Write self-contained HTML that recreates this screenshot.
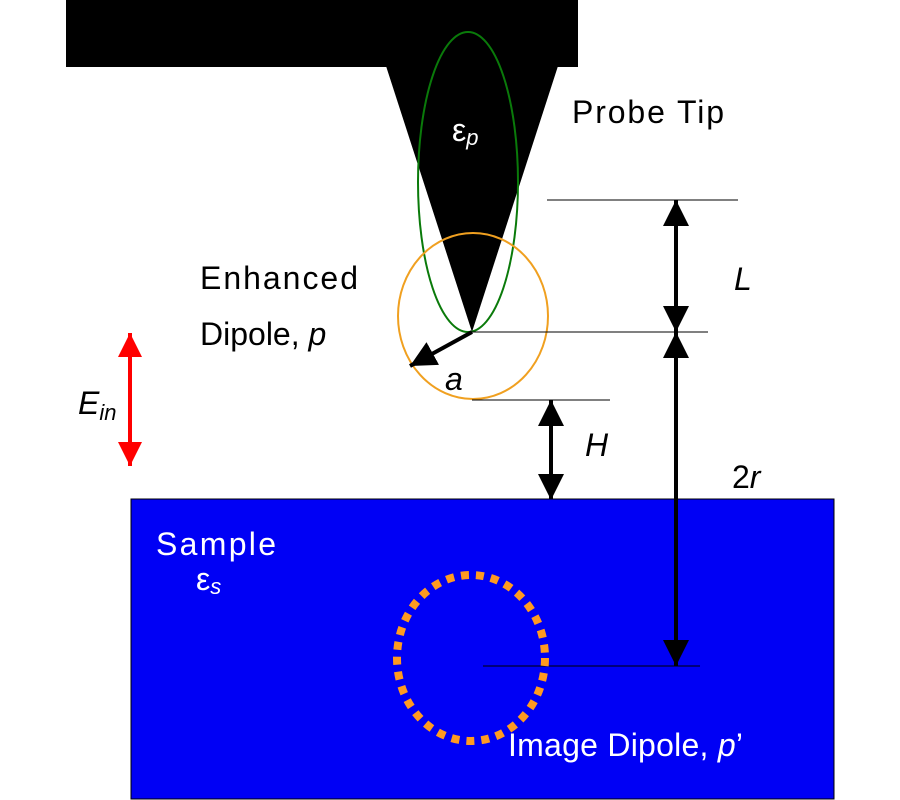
<!DOCTYPE html>
<html><head><style>body{margin:0;background:#fff}svg{display:block}text{font-family:"Liberation Sans",sans-serif;font-size:32px}</style></head><body>
<svg width="900" height="800" viewBox="0 0 900 800">
<defs>
<marker id="ah" viewBox="0 0 10 10" refX="10" refY="5" markerWidth="26" markerHeight="26" markerUnits="userSpaceOnUse" orient="auto"><path d="M0,0L10,5L0,10z" fill="#000"/></marker>
<marker id="ahr" viewBox="0 0 10 10" refX="10" refY="5" markerWidth="24" markerHeight="24" markerUnits="userSpaceOnUse" orient="auto"><path d="M0,0L10,5L0,10z" fill="#f00"/></marker>
</defs>
<rect x="66" y="0" width="512" height="67" fill="#000"/>
<polygon points="386,66 558,66 472,332" fill="#000"/>
<ellipse cx="468" cy="182" rx="50" ry="150" fill="none" stroke="#0a7a0a" stroke-width="2"/>
<ellipse cx="473" cy="316" rx="75" ry="83" fill="none" stroke="#f0a020" stroke-width="2"/>
<text x="452" y="141" fill="#fff" font-size="26">ε<tspan font-style="italic" font-size="22" dy="4">p</tspan></text>
<text x="572" y="123" fill="#000" textLength="152">Probe Tip</text>
<text x="200" y="289" textLength="158">Enhanced</text>
<text x="200" y="345">Dipole, <tspan font-style="italic">p</tspan></text>
<text x="445" y="390" font-style="italic">a</text>
<line x1="547" y1="200" x2="738" y2="200" stroke="#000" stroke-width="1"/>
<line x1="472" y1="332" x2="708" y2="332" stroke="#000" stroke-width="1"/>
<line x1="472" y1="400" x2="610" y2="400" stroke="#000" stroke-width="1"/>
<line x1="472" y1="332" x2="410" y2="366" stroke="#000" stroke-width="4" marker-end="url(#ah)"/>
<line x1="676" y1="250" x2="676" y2="200" stroke="#000" stroke-width="4" marker-end="url(#ah)"/>
<line x1="676" y1="250" x2="676" y2="332" stroke="#000" stroke-width="4" marker-end="url(#ah)"/>
<text x="734" y="290" font-style="italic">L</text>
<line x1="551" y1="450" x2="551" y2="400" stroke="#000" stroke-width="4" marker-end="url(#ah)"/>
<line x1="551" y1="450" x2="551" y2="500" stroke="#000" stroke-width="4" marker-end="url(#ah)"/>
<text x="585" y="456" font-style="italic">H</text>
<line x1="130" y1="400" x2="130" y2="333" stroke="#f00" stroke-width="4" marker-end="url(#ahr)"/>
<line x1="130" y1="400" x2="130" y2="466" stroke="#f00" stroke-width="4" marker-end="url(#ahr)"/>
<text x="78" y="414" font-style="italic">E<tspan font-size="22" dy="6">in</tspan></text>
<text x="732" y="488">2<tspan font-style="italic">r</tspan></text>
<rect x="131" y="499" width="703" height="300" fill="#0000f5" stroke="#000" stroke-width="1"/>
<line x1="676" y1="499" x2="676" y2="666" stroke="#000" stroke-width="4" marker-end="url(#ah)"/>
<line x1="676" y1="420" x2="676" y2="332" stroke="#000" stroke-width="4" marker-end="url(#ah)"/>
<line x1="676" y1="420" x2="676" y2="500" stroke="#000" stroke-width="4"/>
<line x1="483" y1="666" x2="700" y2="666" stroke="#000" stroke-width="1"/>
<ellipse cx="471" cy="658" rx="74" ry="83" fill="none" stroke="#ff9a20" stroke-width="8" stroke-dasharray="8,7"/>
<text x="156" y="555" fill="#fff" textLength="120">Sample</text>
<text x="196" y="590" fill="#fff" font-size="26">ε<tspan font-style="italic" font-size="22" dy="4">s</tspan></text>
<text x="508" y="756" fill="#fff" textLength="235">Image Dipole, <tspan font-style="italic">p</tspan>’</text>
</svg>
</body></html>
